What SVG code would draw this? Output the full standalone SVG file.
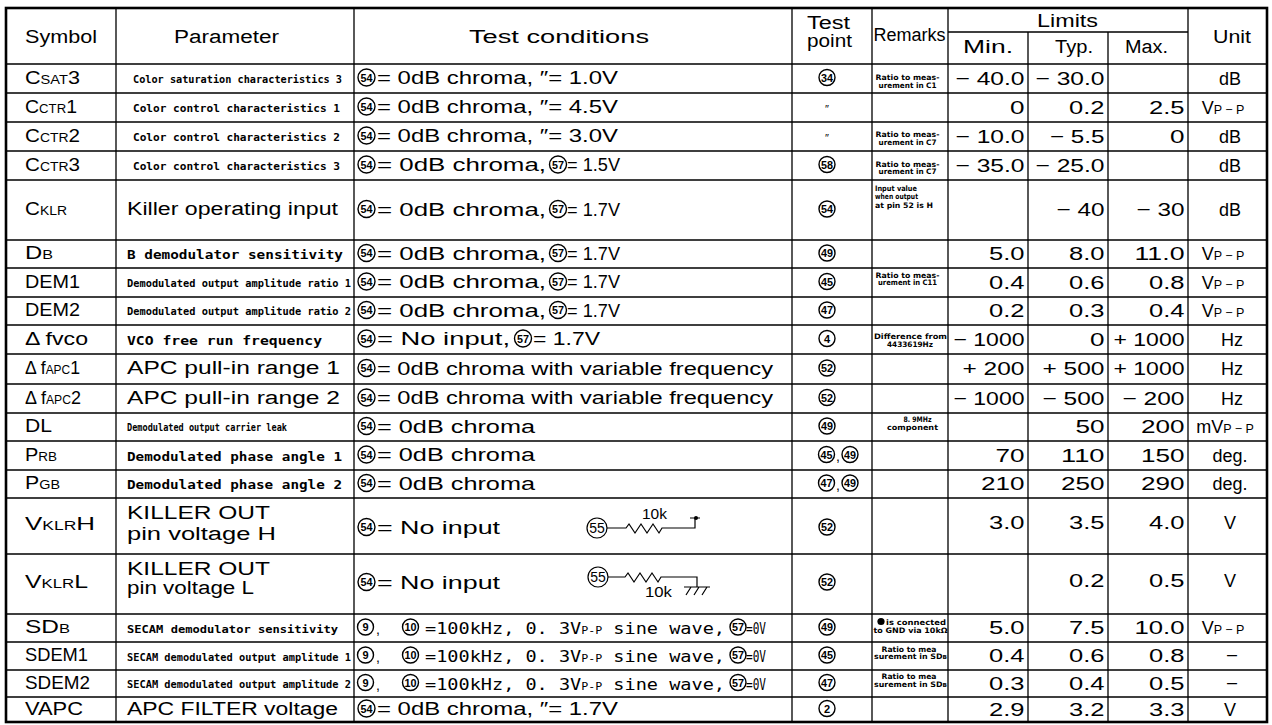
<svg xmlns="http://www.w3.org/2000/svg" width="1272" height="725" viewBox="0 0 1272 725">
<style>
text{font-family:"Liberation Sans",Arial,sans-serif;fill:#000}
.hd{font-size:18px}
.sy{font-size:18.5px}
.sc{font-size:12.5px}
.bg{font-size:18px}
.tc{font-size:17.5px}
.sm{font-family:"DejaVu Sans Mono",monospace;font-weight:bold;font-size:10px}
.md{font-family:"DejaVu Sans Mono",monospace;font-weight:bold;font-size:13px}
.cd{font-family:"DejaVu Sans Mono",monospace;font-size:16px}
.tn{font-family:"DejaVu Sans Condensed","DejaVu Sans",sans-serif;font-weight:bold;font-size:7.5px}
.nm{font-size:18.5px;text-anchor:end}
.un{font-size:18px;text-anchor:middle}
.mid{text-anchor:middle}
.cn circle{fill:none;stroke:#000;stroke-width:1.4}
.cn text{font-size:11px;font-weight:bold;text-anchor:middle}
.ln{stroke:#000;stroke-width:1.3;fill:none}
.ob{stroke:#000;stroke-width:2.6;fill:none}
.ck{stroke:#000;stroke-width:1.2;fill:none}
</style>
<rect width="1272" height="725" fill="#fff"/>
<g id="grid">
<rect class="ob" x="6" y="8" width="1261" height="714"/>
<path class="ln" d="M6,64H1267M6,93H1267M6,122H1267M6,151H1267M6,180H1267M6,240H1267M6,268H1267M6,297H1267M6,325H1267M6,354H1267M6,384H1267M6,413H1267M6,441H1267M6,470H1267M6,498H1267M6,554H1267M6,614H1267M6,642H1267M6,670H1267M6,697H1267M948,32H1188"/>
<path class="ln" d="M116,8V722M354,8V722M792,8V722M872,8V722M948,8V722M1188,8V722M1028,32V722M1108,32V722"/>
</g>
<g id="header">
<text class="hd" x="25" y="42.5" textLength="72" lengthAdjust="spacingAndGlyphs">Symbol</text>
<text class="hd" x="174" y="42.5" textLength="105" lengthAdjust="spacingAndGlyphs">Parameter</text>
<text class="hd" x="469" y="42.5" textLength="180" lengthAdjust="spacingAndGlyphs">Test  conditions</text>
<text class="hd" x="807" y="28.5" textLength="43" lengthAdjust="spacingAndGlyphs" font-size="16.5">Test</text>
<text class="hd" x="807" y="47" textLength="45" lengthAdjust="spacingAndGlyphs" font-size="16.5">point</text>
<text class="hd" x="873.5" y="41" textLength="72" lengthAdjust="spacingAndGlyphs">Remarks</text>
<text class="hd" x="1037" y="27" textLength="61" lengthAdjust="spacingAndGlyphs" font-size="16.5">Limits</text>
<text class="hd" x="963" y="53" textLength="50" lengthAdjust="spacingAndGlyphs" font-size="16.5">Min.</text>
<text class="hd" x="1055" y="53" textLength="38" lengthAdjust="spacingAndGlyphs" font-size="16.5">Typ.</text>
<text class="hd" x="1125" y="53" textLength="43" lengthAdjust="spacingAndGlyphs" font-size="16.5">Max.</text>
<text class="hd" x="1213" y="42.5" textLength="38" lengthAdjust="spacingAndGlyphs">Unit</text>
</g>
<g id="row-csat3">
<text class="sy" x="25" y="83.5" textLength="55" lengthAdjust="spacingAndGlyphs">C<tspan class="sc">SAT</tspan>3</text>
<text class="sm" x="133" y="83" textLength="209" lengthAdjust="spacingAndGlyphs">Color saturation characteristics 3</text>
<g class="cn"><circle cx="366.5" cy="77.5" r="8.5"/><text x="366.5" y="81.5" textLength="12" lengthAdjust="spacingAndGlyphs">54</text></g>
<text class="tc" x="377" y="84" textLength="241" lengthAdjust="spacingAndGlyphs">= 0dB  chroma, ″= 1.0V</text>
<g class="cn"><circle cx="827" cy="77.5" r="8"/><text x="827" y="81.5" textLength="12" lengthAdjust="spacingAndGlyphs">34</text></g>
<text class="tn mid" x="907.5" y="80" textLength="64" lengthAdjust="spacingAndGlyphs">Ratio to meas-</text>
<text class="tn mid" x="907.5" y="87.5" textLength="58" lengthAdjust="spacingAndGlyphs">urement in C1</text>
<text class="nm" x="1024.5" y="84.5" textLength="69" lengthAdjust="spacingAndGlyphs">− 40.0</text>
<text class="nm" x="1104.5" y="84.5" textLength="69" lengthAdjust="spacingAndGlyphs">− 30.0</text>
<text class="un" x="1230" y="84.5">dB</text>
</g>
<g id="row-cctr1">
<text class="sy" x="25" y="112.5" textLength="52" lengthAdjust="spacingAndGlyphs">C<tspan class="sc">CTR</tspan>1</text>
<text class="sm" x="133" y="112" textLength="207" lengthAdjust="spacingAndGlyphs">Color control characteristics 1</text>
<g class="cn"><circle cx="366.5" cy="106.5" r="8.5"/><text x="366.5" y="110.5" textLength="12" lengthAdjust="spacingAndGlyphs">54</text></g>
<text class="tc" x="377" y="113" textLength="241" lengthAdjust="spacingAndGlyphs">= 0dB  chroma, ″= 4.5V</text>
<text class="mid" x="827" y="113" font-size="11">″</text>
<text class="nm" x="1024.5" y="113.5" textLength="14.5" lengthAdjust="spacingAndGlyphs">0</text>
<text class="nm" x="1104.5" y="113.5" textLength="35.5" lengthAdjust="spacingAndGlyphs">0.2</text>
<text class="nm" x="1184.5" y="113.5" textLength="35.5" lengthAdjust="spacingAndGlyphs">2.5</text>
<text class="un" x="1223" y="113.5">V<tspan class="sc">P − P</tspan></text>
</g>
<g id="row-cctr2">
<text class="sy" x="25" y="141.5" textLength="55" lengthAdjust="spacingAndGlyphs">C<tspan class="sc">CTR</tspan>2</text>
<text class="sm" x="133" y="141" textLength="207" lengthAdjust="spacingAndGlyphs">Color control characteristics 2</text>
<g class="cn"><circle cx="366.5" cy="135.5" r="8.5"/><text x="366.5" y="139.5" textLength="12" lengthAdjust="spacingAndGlyphs">54</text></g>
<text class="tc" x="377" y="142" textLength="241" lengthAdjust="spacingAndGlyphs">= 0dB  chroma, ″= 3.0V</text>
<text class="mid" x="827" y="142" font-size="11">″</text>
<text class="tn mid" x="907.5" y="137" textLength="64" lengthAdjust="spacingAndGlyphs">Ratio to meas-</text>
<text class="tn mid" x="907.5" y="144.5" textLength="58" lengthAdjust="spacingAndGlyphs">urement in C7</text>
<text class="nm" x="1024.5" y="142.5" textLength="69" lengthAdjust="spacingAndGlyphs">− 10.0</text>
<text class="nm" x="1104.5" y="142.5" textLength="54.5" lengthAdjust="spacingAndGlyphs">− 5.5</text>
<text class="nm" x="1184.5" y="142.5" textLength="14.5" lengthAdjust="spacingAndGlyphs">0</text>
<text class="un" x="1230" y="142.5">dB</text>
</g>
<g id="row-cctr3">
<text class="sy" x="25" y="170.5" textLength="55" lengthAdjust="spacingAndGlyphs">C<tspan class="sc">CTR</tspan>3</text>
<text class="sm" x="133" y="170" textLength="207" lengthAdjust="spacingAndGlyphs">Color control characteristics 3</text>
<g class="cn"><circle cx="366.5" cy="164.5" r="8.5"/><text x="366.5" y="168.5" textLength="12" lengthAdjust="spacingAndGlyphs">54</text></g>
<text class="tc" x="377" y="171" textLength="169" lengthAdjust="spacingAndGlyphs">= 0dB  chroma,</text>
<g class="cn"><circle cx="558" cy="164.5" r="8.5"/><text x="558" y="168.5" textLength="12" lengthAdjust="spacingAndGlyphs">57</text></g>
<text class="tc" x="567" y="171" textLength="53" lengthAdjust="spacingAndGlyphs">= 1.5V</text>
<g class="cn"><circle cx="827" cy="164.5" r="8"/><text x="827" y="168.5" textLength="12" lengthAdjust="spacingAndGlyphs">58</text></g>
<text class="tn mid" x="907.5" y="166.5" textLength="64" lengthAdjust="spacingAndGlyphs">Ratio to meas-</text>
<text class="tn mid" x="907.5" y="174" textLength="58" lengthAdjust="spacingAndGlyphs">urement in C7</text>
<text class="nm" x="1024.5" y="171.5" textLength="69" lengthAdjust="spacingAndGlyphs">− 35.0</text>
<text class="nm" x="1104.5" y="171.5" textLength="69" lengthAdjust="spacingAndGlyphs">− 25.0</text>
<text class="un" x="1230" y="171.5">dB</text>
</g>
<g id="row-cklr">
<text class="sy" x="25" y="215" textLength="42" lengthAdjust="spacingAndGlyphs">C<tspan class="sc">KLR</tspan></text>
<text class="bg" x="127" y="215" textLength="211" lengthAdjust="spacingAndGlyphs">Killer  operating  input</text>
<g class="cn"><circle cx="366.5" cy="209" r="8.5"/><text x="366.5" y="213" textLength="12" lengthAdjust="spacingAndGlyphs">54</text></g>
<text class="tc" x="377" y="215.5" textLength="169" lengthAdjust="spacingAndGlyphs">= 0dB  chroma,</text>
<g class="cn"><circle cx="558" cy="209" r="8.5"/><text x="558" y="213" textLength="12" lengthAdjust="spacingAndGlyphs">57</text></g>
<text class="tc" x="567" y="215.5" textLength="53" lengthAdjust="spacingAndGlyphs">= 1.7V</text>
<g class="cn"><circle cx="827" cy="209" r="8"/><text x="827" y="213" textLength="12" lengthAdjust="spacingAndGlyphs">54</text></g>
<text class="tn" x="875" y="191" textLength="42" lengthAdjust="spacingAndGlyphs">Input value</text>
<text class="tn" x="875" y="199" textLength="43" lengthAdjust="spacingAndGlyphs">when output</text>
<text class="tn" x="875" y="207.5" textLength="58" lengthAdjust="spacingAndGlyphs">at pin 52 is H</text>
<text class="nm" x="1104.5" y="216" textLength="48" lengthAdjust="spacingAndGlyphs">− 40</text>
<text class="nm" x="1184.5" y="216" textLength="48" lengthAdjust="spacingAndGlyphs">− 30</text>
<text class="un" x="1230" y="216">dB</text>
</g>
<g id="row-db">
<text class="sy" x="25" y="259" textLength="28" lengthAdjust="spacingAndGlyphs">D<tspan class="sc">B</tspan></text>
<text class="md" x="127" y="259" textLength="216" lengthAdjust="spacingAndGlyphs">B demodulator sensitivity</text>
<g class="cn"><circle cx="366.5" cy="253" r="8.5"/><text x="366.5" y="257" textLength="12" lengthAdjust="spacingAndGlyphs">54</text></g>
<text class="tc" x="377" y="259.5" textLength="169" lengthAdjust="spacingAndGlyphs">= 0dB  chroma,</text>
<g class="cn"><circle cx="558" cy="253" r="8.5"/><text x="558" y="257" textLength="12" lengthAdjust="spacingAndGlyphs">57</text></g>
<text class="tc" x="567" y="259.5" textLength="53" lengthAdjust="spacingAndGlyphs">= 1.7V</text>
<g class="cn"><circle cx="827" cy="253" r="8"/><text x="827" y="257" textLength="12" lengthAdjust="spacingAndGlyphs">49</text></g>
<text class="nm" x="1024.5" y="260" textLength="35.5" lengthAdjust="spacingAndGlyphs">5.0</text>
<text class="nm" x="1104.5" y="260" textLength="35.5" lengthAdjust="spacingAndGlyphs">8.0</text>
<text class="nm" x="1184.5" y="260" textLength="50" lengthAdjust="spacingAndGlyphs">11.0</text>
<text class="un" x="1223" y="260">V<tspan class="sc">P − P</tspan></text>
</g>
<g id="row-dem1">
<text class="sy" x="25" y="287.5" textLength="55" lengthAdjust="spacingAndGlyphs">DEM1</text>
<text class="sm" x="127" y="286.5" textLength="224" lengthAdjust="spacingAndGlyphs" font-size="9px">Demodulated output amplitude ratio 1</text>
<g class="cn"><circle cx="366.5" cy="281.5" r="8.5"/><text x="366.5" y="285.5" textLength="12" lengthAdjust="spacingAndGlyphs">54</text></g>
<text class="tc" x="377" y="288" textLength="169" lengthAdjust="spacingAndGlyphs">= 0dB  chroma,</text>
<g class="cn"><circle cx="558" cy="281.5" r="8.5"/><text x="558" y="285.5" textLength="12" lengthAdjust="spacingAndGlyphs">57</text></g>
<text class="tc" x="567" y="288" textLength="53" lengthAdjust="spacingAndGlyphs">= 1.7V</text>
<g class="cn"><circle cx="827" cy="281.5" r="8"/><text x="827" y="285.5" textLength="12" lengthAdjust="spacingAndGlyphs">45</text></g>
<text class="tn mid" x="907.5" y="277.5" textLength="64" lengthAdjust="spacingAndGlyphs">Ratio to meas-</text>
<text class="tn mid" x="907.5" y="285" textLength="59" lengthAdjust="spacingAndGlyphs">urement in C11</text>
<text class="nm" x="1024.5" y="288.5" textLength="35.5" lengthAdjust="spacingAndGlyphs">0.4</text>
<text class="nm" x="1104.5" y="288.5" textLength="35.5" lengthAdjust="spacingAndGlyphs">0.6</text>
<text class="nm" x="1184.5" y="288.5" textLength="35.5" lengthAdjust="spacingAndGlyphs">0.8</text>
<text class="un" x="1223" y="288.5">V<tspan class="sc">P − P</tspan></text>
</g>
<g id="row-dem2">
<text class="sy" x="25" y="316" textLength="55" lengthAdjust="spacingAndGlyphs">DEM2</text>
<text class="sm" x="127" y="315" textLength="224" lengthAdjust="spacingAndGlyphs" font-size="9px">Demodulated output amplitude ratio 2</text>
<g class="cn"><circle cx="366.5" cy="310" r="8.5"/><text x="366.5" y="314" textLength="12" lengthAdjust="spacingAndGlyphs">54</text></g>
<text class="tc" x="377" y="316.5" textLength="169" lengthAdjust="spacingAndGlyphs">= 0dB  chroma,</text>
<g class="cn"><circle cx="558" cy="310" r="8.5"/><text x="558" y="314" textLength="12" lengthAdjust="spacingAndGlyphs">57</text></g>
<text class="tc" x="567" y="316.5" textLength="53" lengthAdjust="spacingAndGlyphs">= 1.7V</text>
<g class="cn"><circle cx="827" cy="310" r="8"/><text x="827" y="314" textLength="12" lengthAdjust="spacingAndGlyphs">47</text></g>
<text class="nm" x="1024.5" y="317" textLength="35.5" lengthAdjust="spacingAndGlyphs">0.2</text>
<text class="nm" x="1104.5" y="317" textLength="35.5" lengthAdjust="spacingAndGlyphs">0.3</text>
<text class="nm" x="1184.5" y="317" textLength="35.5" lengthAdjust="spacingAndGlyphs">0.4</text>
<text class="un" x="1223" y="317">V<tspan class="sc">P − P</tspan></text>
</g>
<g id="row-fvco">
<text class="sy" x="25" y="344.5" textLength="63" lengthAdjust="spacingAndGlyphs">Δ fvco</text>
<text class="md" x="127" y="344.5" textLength="195" lengthAdjust="spacingAndGlyphs">VCO free run frequency</text>
<g class="cn"><circle cx="366.5" cy="338.5" r="8.5"/><text x="366.5" y="342.5" textLength="12" lengthAdjust="spacingAndGlyphs">54</text></g>
<text class="tc" x="377" y="345" textLength="133" lengthAdjust="spacingAndGlyphs">= No  input,</text>
<g class="cn"><circle cx="523" cy="338.5" r="8.5"/><text x="523" y="342.5" textLength="12" lengthAdjust="spacingAndGlyphs">57</text></g>
<text class="tc" x="533" y="345" textLength="67" lengthAdjust="spacingAndGlyphs">= 1.7V</text>
<g class="cn"><circle cx="827" cy="338.5" r="8"/><text x="827" y="342.5">4</text></g>
<text class="tn" x="874" y="338.5" textLength="73" lengthAdjust="spacingAndGlyphs">Difference from</text>
<text class="tn mid" x="910" y="347" textLength="46" lengthAdjust="spacingAndGlyphs">4433619Hz</text>
<text class="nm" x="1024.5" y="345.5" textLength="71" lengthAdjust="spacingAndGlyphs">− 1000</text>
<text class="nm" x="1104.5" y="345.5" textLength="14.5" lengthAdjust="spacingAndGlyphs">0</text>
<text class="nm" x="1184.5" y="345.5" textLength="71" lengthAdjust="spacingAndGlyphs">+ 1000</text>
<text class="un" x="1232" y="345.5">Hz</text>
</g>
<g id="row-fapc1">
<text class="sy" x="25" y="374" textLength="55" lengthAdjust="spacingAndGlyphs">Δ f<tspan class="sc">APC</tspan>1</text>
<text class="bg" x="127" y="374" textLength="213" lengthAdjust="spacingAndGlyphs">APC  pull-in  range  1</text>
<g class="cn"><circle cx="366.5" cy="368" r="8.5"/><text x="366.5" y="372" textLength="12" lengthAdjust="spacingAndGlyphs">54</text></g>
<text class="tc" x="377" y="374.5" textLength="396" lengthAdjust="spacingAndGlyphs">= 0dB  chroma  with  variable  frequency</text>
<g class="cn"><circle cx="827" cy="368" r="8"/><text x="827" y="372" textLength="12" lengthAdjust="spacingAndGlyphs">52</text></g>
<text class="nm" x="1024.5" y="375" textLength="62" lengthAdjust="spacingAndGlyphs">+ 200</text>
<text class="nm" x="1104.5" y="375" textLength="62" lengthAdjust="spacingAndGlyphs">+ 500</text>
<text class="nm" x="1184.5" y="375" textLength="71" lengthAdjust="spacingAndGlyphs">+ 1000</text>
<text class="un" x="1232" y="375">Hz</text>
</g>
<g id="row-fapc2">
<text class="sy" x="25" y="403.5" textLength="56" lengthAdjust="spacingAndGlyphs">Δ f<tspan class="sc">APC</tspan>2</text>
<text class="bg" x="127" y="403.5" textLength="213" lengthAdjust="spacingAndGlyphs">APC  pull-in  range  2</text>
<g class="cn"><circle cx="366.5" cy="397.5" r="8.5"/><text x="366.5" y="401.5" textLength="12" lengthAdjust="spacingAndGlyphs">54</text></g>
<text class="tc" x="377" y="404" textLength="396" lengthAdjust="spacingAndGlyphs">= 0dB  chroma  with  variable  frequency</text>
<g class="cn"><circle cx="827" cy="397.5" r="8"/><text x="827" y="401.5" textLength="12" lengthAdjust="spacingAndGlyphs">52</text></g>
<text class="nm" x="1024.5" y="404.5" textLength="71" lengthAdjust="spacingAndGlyphs">− 1000</text>
<text class="nm" x="1104.5" y="404.5" textLength="62" lengthAdjust="spacingAndGlyphs">− 500</text>
<text class="nm" x="1184.5" y="404.5" textLength="62" lengthAdjust="spacingAndGlyphs">− 200</text>
<text class="un" x="1232" y="404.5">Hz</text>
</g>
<g id="row-dl">
<text class="sy" x="25" y="432" textLength="27" lengthAdjust="spacingAndGlyphs">DL</text>
<text class="sm" x="127" y="431" textLength="160" lengthAdjust="spacingAndGlyphs" font-size="9px">Demodulated output carrier leak</text>
<g class="cn"><circle cx="366.5" cy="426" r="8.5"/><text x="366.5" y="430" textLength="12" lengthAdjust="spacingAndGlyphs">54</text></g>
<text class="tc" x="377" y="432.5" textLength="158" lengthAdjust="spacingAndGlyphs">= 0dB  chroma</text>
<g class="cn"><circle cx="827" cy="426" r="8"/><text x="827" y="430" textLength="12" lengthAdjust="spacingAndGlyphs">49</text></g>
<text class="tn mid" x="917.5" y="421.5" textLength="28" lengthAdjust="spacingAndGlyphs">8. 9MHz</text>
<text class="tn mid" x="912.5" y="430" textLength="51" lengthAdjust="spacingAndGlyphs">component</text>
<text class="nm" x="1104.5" y="433" textLength="29" lengthAdjust="spacingAndGlyphs">50</text>
<text class="nm" x="1184.5" y="433" textLength="43.5" lengthAdjust="spacingAndGlyphs">200</text>
<text class="un" x="1225" y="433">mV<tspan class="sc">P − P</tspan></text>
</g>
<g id="row-prb">
<text class="sy" x="25" y="460.5" textLength="32" lengthAdjust="spacingAndGlyphs">P<tspan class="sc">RB</tspan></text>
<text class="md" x="127" y="460.5" textLength="215" lengthAdjust="spacingAndGlyphs">Demodulated phase angle 1</text>
<g class="cn"><circle cx="366.5" cy="454.5" r="8.5"/><text x="366.5" y="458.5" textLength="12" lengthAdjust="spacingAndGlyphs">54</text></g>
<text class="tc" x="377" y="461" textLength="158" lengthAdjust="spacingAndGlyphs">= 0dB  chroma</text>
<g class="cn"><circle cx="826.5" cy="454.5" r="8"/><text x="826.5" y="458.5" textLength="12" lengthAdjust="spacingAndGlyphs">45</text></g>
<text x="836" y="461" font-size="14">,</text>
<g class="cn"><circle cx="850" cy="454.5" r="8"/><text x="850" y="458.5" textLength="12" lengthAdjust="spacingAndGlyphs">49</text></g>
<text class="nm" x="1024.5" y="461.5" textLength="29" lengthAdjust="spacingAndGlyphs">70</text>
<text class="nm" x="1104.5" y="461.5" textLength="43.5" lengthAdjust="spacingAndGlyphs">110</text>
<text class="nm" x="1184.5" y="461.5" textLength="43.5" lengthAdjust="spacingAndGlyphs">150</text>
<text class="un" x="1230" y="461.5">deg.</text>
</g>
<g id="row-pgb">
<text class="sy" x="25" y="489" textLength="35" lengthAdjust="spacingAndGlyphs">P<tspan class="sc">GB</tspan></text>
<text class="md" x="127" y="489" textLength="215" lengthAdjust="spacingAndGlyphs">Demodulated phase angle 2</text>
<g class="cn"><circle cx="366.5" cy="483" r="8.5"/><text x="366.5" y="487" textLength="12" lengthAdjust="spacingAndGlyphs">54</text></g>
<text class="tc" x="377" y="489.5" textLength="158" lengthAdjust="spacingAndGlyphs">= 0dB  chroma</text>
<g class="cn"><circle cx="826.5" cy="483" r="8"/><text x="826.5" y="487" textLength="12" lengthAdjust="spacingAndGlyphs">47</text></g>
<text x="836" y="489.5" font-size="14">,</text>
<g class="cn"><circle cx="850" cy="483" r="8"/><text x="850" y="487" textLength="12" lengthAdjust="spacingAndGlyphs">49</text></g>
<text class="nm" x="1024.5" y="490" textLength="43.5" lengthAdjust="spacingAndGlyphs">210</text>
<text class="nm" x="1104.5" y="490" textLength="43.5" lengthAdjust="spacingAndGlyphs">250</text>
<text class="nm" x="1184.5" y="490" textLength="43.5" lengthAdjust="spacingAndGlyphs">290</text>
<text class="un" x="1230" y="490">deg.</text>
</g>
<g id="row-vklrh">
<text class="sy" x="25" y="530" textLength="70" lengthAdjust="spacingAndGlyphs">V<tspan class="sc">KLR</tspan>H</text>
<text class="bg" x="127" y="519" textLength="143" lengthAdjust="spacingAndGlyphs">KILLER  OUT</text>
<text class="bg" x="127" y="540" textLength="149" lengthAdjust="spacingAndGlyphs">pin  voltage  H</text>
<g class="cn"><circle cx="366.5" cy="527" r="8.5"/><text x="366.5" y="531" textLength="12" lengthAdjust="spacingAndGlyphs">54</text></g>
<text class="tc" x="377" y="533.5" textLength="123" lengthAdjust="spacingAndGlyphs">= No  input</text>
<circle class="ck" cx="597" cy="528" r="10"/>
<text class="mid" x="597" y="533" font-size="14">55</text>
<path class="ck" d="M607,528H626l3,-4l6,9l6,-9l6,9l6,-9l6,9l3,-5H695V518M690,518H700"/>
<circle cx="696" cy="518" r="2"/>
<text x="642" y="519" font-size="15" textLength="25" lengthAdjust="spacingAndGlyphs">10k</text>
<g class="cn"><circle cx="827" cy="527" r="8"/><text x="827" y="531" textLength="12" lengthAdjust="spacingAndGlyphs">52</text></g>
<text class="nm" x="1024.5" y="529" textLength="35.5" lengthAdjust="spacingAndGlyphs">3.0</text>
<text class="nm" x="1104.5" y="529" textLength="35.5" lengthAdjust="spacingAndGlyphs">3.5</text>
<text class="nm" x="1184.5" y="529" textLength="35.5" lengthAdjust="spacingAndGlyphs">4.0</text>
<text class="un" x="1230" y="529">V</text>
</g>
<g id="row-vklrl">
<text class="sy" x="25" y="588" textLength="63" lengthAdjust="spacingAndGlyphs">V<tspan class="sc">KLR</tspan>L</text>
<text class="bg" x="127" y="575" textLength="143" lengthAdjust="spacingAndGlyphs">KILLER  OUT</text>
<text class="bg" x="127" y="594" textLength="127" lengthAdjust="spacingAndGlyphs">pin  voltage  L</text>
<g class="cn"><circle cx="366.5" cy="582" r="8.5"/><text x="366.5" y="586" textLength="12" lengthAdjust="spacingAndGlyphs">54</text></g>
<text class="tc" x="377" y="588.5" textLength="123" lengthAdjust="spacingAndGlyphs">= No  input</text>
<circle class="ck" cx="598" cy="577" r="10"/>
<text class="mid" x="598" y="582" font-size="14">55</text>
<path class="ck" d="M608,577H625l3,-4l6,9l6,-9l6,9l6,-9l6,9l3,-5H697V587M684,587H710M691,587l-5,8M699,587l-5,8M707,587l-5,8"/>
<text x="645" y="597" font-size="15" textLength="27" lengthAdjust="spacingAndGlyphs">10k</text>
<g class="cn"><circle cx="827" cy="582" r="8"/><text x="827" y="586" textLength="12" lengthAdjust="spacingAndGlyphs">52</text></g>
<text class="nm" x="1104.5" y="587" textLength="35.5" lengthAdjust="spacingAndGlyphs">0.2</text>
<text class="nm" x="1184.5" y="587" textLength="35.5" lengthAdjust="spacingAndGlyphs">0.5</text>
<text class="un" x="1230" y="587">V</text>
</g>
<g id="row-sdb">
<text class="sy" x="25" y="633" textLength="45" lengthAdjust="spacingAndGlyphs">SD<tspan class="sc">B</tspan></text>
<text class="sm" x="127" y="632.5" textLength="211" lengthAdjust="spacingAndGlyphs">SECAM demodulator sensitivity</text>
<g class="cn"><circle cx="365.5" cy="627" r="8"/><text x="365.5" y="631">9</text></g>
<text x="376" y="634" font-size="14">,</text>
<g class="cn"><circle cx="410.5" cy="627" r="8"/><text x="410.5" y="631" textLength="12" lengthAdjust="spacingAndGlyphs">10</text></g>
<text class="cd" x="425" y="634" textLength="300" lengthAdjust="spacingAndGlyphs">=100kHz,  0. 3V<tspan font-size="10px">P-P</tspan>  sine wave,</text>
<g class="cn"><circle cx="738" cy="627" r="8"/><text x="738" y="631" textLength="12" lengthAdjust="spacingAndGlyphs">57</text></g>
<text class="cd" x="746" y="634" textLength="20" lengthAdjust="spacingAndGlyphs">=0V</text>
<g class="cn"><circle cx="827" cy="627" r="8"/><text x="827" y="631" textLength="12" lengthAdjust="spacingAndGlyphs">49</text></g>
<circle cx="881" cy="621.5" r="3.6"/>
<text class="tn" x="886" y="625" textLength="60" lengthAdjust="spacingAndGlyphs">is connected</text>
<text class="tn" x="873.5" y="633" textLength="74" lengthAdjust="spacingAndGlyphs">to GND via 10kΩ</text>
<text class="nm" x="1024.5" y="634" textLength="35.5" lengthAdjust="spacingAndGlyphs">5.0</text>
<text class="nm" x="1104.5" y="634" textLength="35.5" lengthAdjust="spacingAndGlyphs">7.5</text>
<text class="nm" x="1184.5" y="634" textLength="50" lengthAdjust="spacingAndGlyphs">10.0</text>
<text class="un" x="1223" y="634">V<tspan class="sc">P − P</tspan></text>
</g>
<g id="row-sdem1">
<text class="sy" x="25" y="661" textLength="63" lengthAdjust="spacingAndGlyphs">SDEM1</text>
<text class="sm" x="127" y="660.5" textLength="224" lengthAdjust="spacingAndGlyphs" font-size="9px">SECAM demodulated output amplitude 1</text>
<g class="cn"><circle cx="365.5" cy="655" r="8"/><text x="365.5" y="659">9</text></g>
<text x="376" y="662" font-size="14">,</text>
<g class="cn"><circle cx="410.5" cy="655" r="8"/><text x="410.5" y="659" textLength="12" lengthAdjust="spacingAndGlyphs">10</text></g>
<text class="cd" x="425" y="662" textLength="300" lengthAdjust="spacingAndGlyphs">=100kHz,  0. 3V<tspan font-size="10px">P-P</tspan>  sine wave,</text>
<g class="cn"><circle cx="738" cy="655" r="8"/><text x="738" y="659" textLength="12" lengthAdjust="spacingAndGlyphs">57</text></g>
<text class="cd" x="746" y="662" textLength="20" lengthAdjust="spacingAndGlyphs">=0V</text>
<g class="cn"><circle cx="827" cy="655" r="8"/><text x="827" y="659" textLength="12" lengthAdjust="spacingAndGlyphs">45</text></g>
<text class="tn mid" x="909" y="651.5" textLength="55" lengthAdjust="spacingAndGlyphs">Ratio to mea</text>
<text class="tn" x="874" y="659" textLength="73" lengthAdjust="spacingAndGlyphs">surement in SD<tspan font-size="5.5px">B</tspan></text>
<text class="nm" x="1024.5" y="662" textLength="35.5" lengthAdjust="spacingAndGlyphs">0.4</text>
<text class="nm" x="1104.5" y="662" textLength="35.5" lengthAdjust="spacingAndGlyphs">0.6</text>
<text class="nm" x="1184.5" y="662" textLength="35.5" lengthAdjust="spacingAndGlyphs">0.8</text>
<text class="un" x="1232" y="660">–</text>
</g>
<g id="row-sdem2">
<text class="sy" x="25" y="688.5" textLength="65" lengthAdjust="spacingAndGlyphs">SDEM2</text>
<text class="sm" x="127" y="688" textLength="224" lengthAdjust="spacingAndGlyphs" font-size="9px">SECAM demodulated output amplitude 2</text>
<g class="cn"><circle cx="365.5" cy="682.5" r="8"/><text x="365.5" y="686.5">9</text></g>
<text x="376" y="689.5" font-size="14">,</text>
<g class="cn"><circle cx="410.5" cy="682.5" r="8"/><text x="410.5" y="686.5" textLength="12" lengthAdjust="spacingAndGlyphs">10</text></g>
<text class="cd" x="425" y="689.5" textLength="300" lengthAdjust="spacingAndGlyphs">=100kHz,  0. 3V<tspan font-size="10px">P-P</tspan>  sine wave,</text>
<g class="cn"><circle cx="738" cy="682.5" r="8"/><text x="738" y="686.5" textLength="12" lengthAdjust="spacingAndGlyphs">57</text></g>
<text class="cd" x="746" y="689.5" textLength="20" lengthAdjust="spacingAndGlyphs">=0V</text>
<g class="cn"><circle cx="827" cy="682.5" r="8"/><text x="827" y="686.5" textLength="12" lengthAdjust="spacingAndGlyphs">47</text></g>
<text class="tn mid" x="909" y="679" textLength="55" lengthAdjust="spacingAndGlyphs">Ratio to mea</text>
<text class="tn" x="874" y="686.5" textLength="73" lengthAdjust="spacingAndGlyphs">surement in SD<tspan font-size="5.5px">B</tspan></text>
<text class="nm" x="1024.5" y="689.5" textLength="35.5" lengthAdjust="spacingAndGlyphs">0.3</text>
<text class="nm" x="1104.5" y="689.5" textLength="35.5" lengthAdjust="spacingAndGlyphs">0.4</text>
<text class="nm" x="1184.5" y="689.5" textLength="35.5" lengthAdjust="spacingAndGlyphs">0.5</text>
<text class="un" x="1232" y="687.5">–</text>
</g>
<g id="row-vapc">
<text class="sy" x="25" y="714.5" textLength="58" lengthAdjust="spacingAndGlyphs">VAPC</text>
<text class="bg" x="127" y="714.5" textLength="211" lengthAdjust="spacingAndGlyphs">APC  FILTER  voltage</text>
<g class="cn"><circle cx="366.5" cy="708.5" r="8.5"/><text x="366.5" y="712.5" textLength="12" lengthAdjust="spacingAndGlyphs">54</text></g>
<text class="tc" x="377" y="715" textLength="241" lengthAdjust="spacingAndGlyphs">= 0dB  chroma, ″= 1.7V</text>
<g class="cn"><circle cx="827" cy="708.5" r="8"/><text x="827" y="712.5">2</text></g>
<text class="nm" x="1024.5" y="715.5" textLength="35.5" lengthAdjust="spacingAndGlyphs">2.9</text>
<text class="nm" x="1104.5" y="715.5" textLength="35.5" lengthAdjust="spacingAndGlyphs">3.2</text>
<text class="nm" x="1184.5" y="715.5" textLength="35.5" lengthAdjust="spacingAndGlyphs">3.3</text>
<text class="un" x="1230" y="715.5">V</text>
</g>
</svg>
